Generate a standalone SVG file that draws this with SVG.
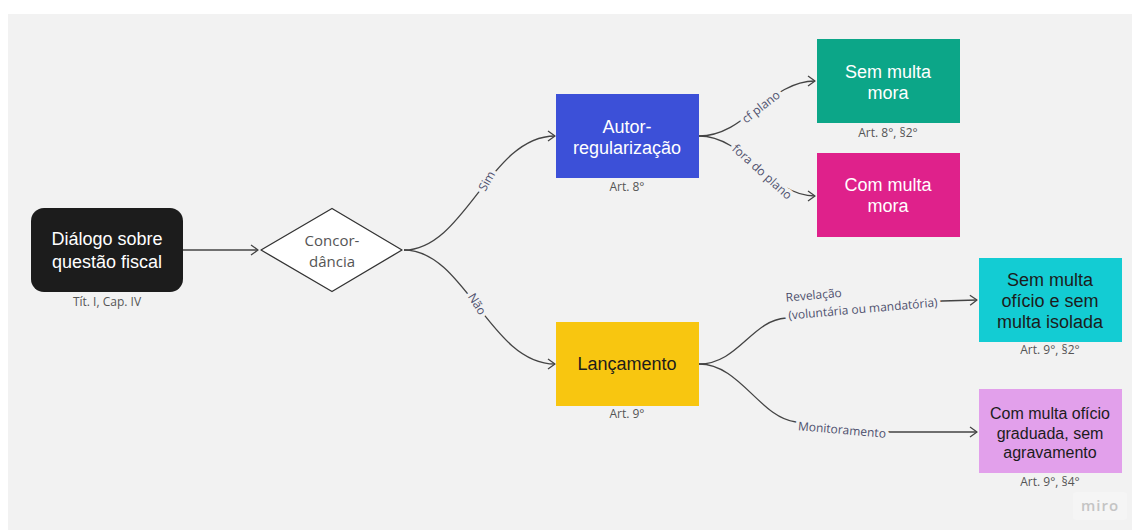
<svg xmlns="http://www.w3.org/2000/svg" width="1132" height="530" viewBox="0 0 1132 530">
<defs>
<style>
.node{font-family:"Liberation Sans",Arial,sans-serif;font-size:18px;text-anchor:middle}
.w{fill:#ffffff}
.d{fill:#1c1c1c}
.cap{font-family:"Open Sans","Liberation Sans",sans-serif;font-size:12px;fill:#555555;text-anchor:middle}
.lbl{font-family:"Open Sans","Liberation Sans",sans-serif;font-size:12px;fill:#4f516e;text-anchor:middle;stroke:#f2f2f2;stroke-width:7;stroke-linejoin:round;paint-order:stroke}
.conn{fill:none;stroke:#444444;stroke-width:1.3}
</style>
<marker id="arr" viewBox="-10 -6 12 12" refX="0" refY="0" markerWidth="12" markerHeight="12" markerUnits="userSpaceOnUse" orient="auto">
<path d="M-7,-5 L0,0 L-7,5" fill="none" stroke="#444444" stroke-width="1.3" stroke-linejoin="round"/>
</marker>
</defs>
<rect x="0" y="0" width="1132" height="530" fill="#ffffff"/>
<rect x="8" y="14" width="1124" height="516" fill="#f2f2f2"/>

<g id="connectors">
<path class="conn" d="M183,250 L258,250" marker-end="url(#arr)"/>
<path class="conn" d="M404,250 C465,250 490,136 555,136" marker-end="url(#arr)"/>
<path class="conn" d="M404,250 C465,250 490,364 555,364" marker-end="url(#arr)"/>
<path class="conn" d="M699,136 C745,136 770,81 815,81" marker-end="url(#arr)"/>
<path class="conn" d="M699,136 C745,136 770,196 815,196" marker-end="url(#arr)"/>
<path class="conn" d="M699,364 C738,364 752,320 786,318 L942,301 L977,300" marker-end="url(#arr)"/>
<path class="conn" d="M699,364 C740,364 760,418 796,422 L890,432 L977,432" marker-end="url(#arr)"/>
<text class="lbl" transform="translate(487,181) rotate(-60)" y="4">Sim</text>
<text class="lbl" transform="translate(477,304) rotate(58)" y="4">Não</text>
<text class="lbl" transform="translate(761,107) rotate(-38)" y="4">cf plano</text>
<text class="lbl" transform="translate(762,172) rotate(42)" y="4">fora do plano</text>
<g transform="translate(863,309) rotate(-5)">
<text class="lbl" x="0" y="4">(voluntária ou mandatória)</text>
<text class="lbl" x="-76" y="-14" style="text-anchor:start">Revelação</text>
</g>
<text class="lbl" transform="translate(842,430) rotate(5)" y="4">Monitoramento</text>
</g>

<g id="dialogo">
<rect x="31" y="208" width="152" height="84" rx="13" fill="#1c1c1c"/>
<text class="node w" x="107" y="245">Diálogo sobre</text>
<text class="node w" x="107" y="268">questão fiscal</text>
<text class="cap" x="107" y="306">Tít. I, Cap. IV</text>
</g>

<g id="concordancia">
<path d="M261,250 L332,208.5 L402,250 L332,291.5 Z" fill="#ffffff" stroke="#333333" stroke-width="1.3" stroke-linejoin="round"/>
<text x="332" y="246" font-family="'Open Sans','Liberation Sans',sans-serif" font-size="15" fill="#555555" text-anchor="middle">Concor-</text>
<text x="332" y="267" font-family="'Open Sans','Liberation Sans',sans-serif" font-size="15" fill="#555555" text-anchor="middle">dância</text>
</g>

<g id="autorregularizacao">
<rect x="556" y="94" width="143" height="84" fill="#3c50d8"/>
<text class="node w" x="627" y="133">Autor-</text>
<text class="node w" x="627" y="154">regularização</text>
<text class="cap" x="627" y="191">Art. 8°</text>
</g>

<g id="sem-multa-mora">
<rect x="817" y="39" width="143" height="84" fill="#0ca688"/>
<text class="node w" x="888" y="78">Sem multa</text>
<text class="node w" x="888" y="99">mora</text>
<text class="cap" x="888" y="137">Art. 8°, §2°</text>
</g>

<g id="com-multa-mora">
<rect x="817" y="153" width="143" height="84" fill="#df218b"/>
<text class="node w" x="888" y="191">Com multa</text>
<text class="node w" x="888" y="212">mora</text>
</g>

<g id="lancamento">
<rect x="556" y="322" width="143" height="84" fill="#f8c610"/>
<text class="node d" x="627" y="370">Lançamento</text>
<text class="cap" x="627" y="418">Art. 9°</text>
</g>

<g id="sem-multa-oficio">
<rect x="979" y="258" width="143" height="84" fill="#13ccd3"/>
<text class="node d" x="1050" y="286">Sem multa</text>
<text class="node d" x="1050" y="307">ofício e sem</text>
<text class="node d" x="1050" y="328">multa isolada</text>
<text class="cap" x="1050" y="354">Art. 9°, §2°</text>
</g>

<g id="com-multa-oficio">
<rect x="979" y="389" width="143" height="84" fill="#e2a0eb"/>
<text class="node d" x="1050" y="419" font-size="16" style="font-size:16px">Com multa ofício</text>
<text class="node d" x="1050" y="439" style="font-size:16px">graduada, sem</text>
<text class="node d" x="1050" y="458" style="font-size:16px">agravamento</text>
<text class="cap" x="1050" y="486">Art. 9°, §4°</text>
</g>

<g id="watermark">
<rect x="1073" y="492" width="54" height="28" rx="3" fill="#f5f5f5"/>
<text x="1100" y="511" font-family="'Open Sans','Liberation Sans',sans-serif" font-size="15" font-weight="600" fill="#c4c4c4" text-anchor="middle" letter-spacing="1">miro</text>
</g>
</svg>
